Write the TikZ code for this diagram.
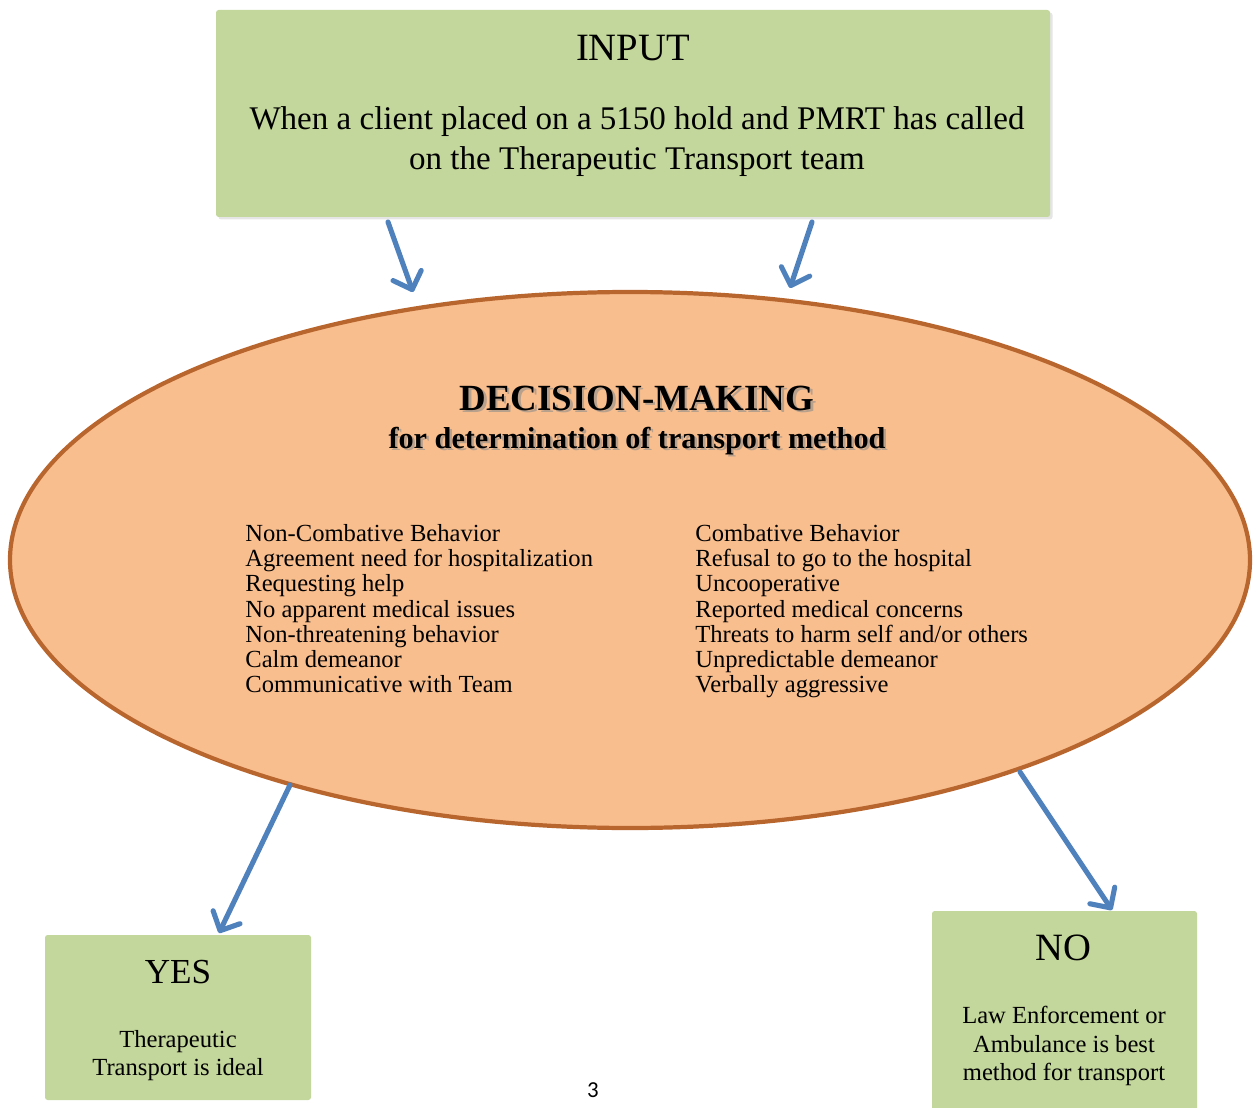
\documentclass[tikz,border=0pt]{standalone}
\usepackage{fontspec}
\setmainfont{Liberation Serif}
\newfontfamily\pagenumfont{Carlito}
\usetikzlibrary{arrows.meta,shapes.geometric,calc}
\definecolor{boxgreen}{HTML}{C3D69B}
\definecolor{peach}{HTML}{F9BE8E}
\definecolor{rim}{HTML}{B8662E}
\definecolor{arrowblue}{HTML}{4F81BD}
\tikzset{
  greenbox/.style={fill=boxgreen, draw=none, rounded corners=1.5pt},
  conn/.style={draw=arrowblue, line width=2.9pt, line cap=round,
    -{Straight Barb[length=8.5pt,width=17pt,line cap=round,line join=round]}},
  listtext/.style={anchor=north west, align=left, inner sep=0pt,
    font=\fontsize{14}{14.35}\selectfont},
  titletext/.style={inner sep=0pt},
  boxtext/.style={align=center, font=\fontsize{14}{16.4}\selectfont}
}
\begin{document}
\begin{tikzpicture}[x=0.02cm,y=-0.02cm]
\useasboundingbox (0,0) rectangle (1254,1108);
% INPUT box
\fill[black,opacity=0.10,rounded corners=1.5pt] (218.5,12.5) rectangle (1052.5,219.5);
\path[greenbox] (216,10) rectangle (1050,217);
\node (inputbox) at (633,113.5) [minimum width=834*0.02cm, minimum height=207*0.02cm, inner sep=0pt] {};
\node (inputtitle) at (633,48) [font=\fontsize{22}{26}\selectfont] {INPUT};
\node (inputtext) at (637,141.5) [align=center, font=\fontsize{18.8}{22.6}\selectfont] {When a client placed on a 5150 hold and PMRT has called\\ on the Therapeutic Transport team};
% ellipse
\node (dec) at (630,560) [ellipse, fill=peach, draw=rim, line width=2.4pt,
  minimum width=1240*0.02cm, minimum height=536*0.02cm, inner sep=0pt] {};
% title with soft shadow
\node[titletext, text=black!45, opacity=0.6, font=\fontsize{21}{24}\selectfont\bfseries] at (639.5,400.5) {DECISION-MAKING};
\node[titletext, font=\fontsize{21}{24}\selectfont\bfseries] (dectitle) at (637,398) {DECISION-MAKING};
\node[titletext, text=black!45, opacity=0.6, font=\fontsize{17.2}{20}\selectfont\bfseries] at (639.5,443.5) {for determination of transport method};
\node[titletext, font=\fontsize{17.2}{20}\selectfont\bfseries] (decsub) at (637,441) {for determination of transport method};
% lists
\node[listtext] (yeslist) at (245,524) {Non-Combative Behavior\\ Agreement need for hospitalization\\ Requesting help\\ No apparent medical issues\\ Non-threatening behavior\\ Calm demeanor\\ Communicative with Team};
\node[listtext] (nolist) at (695,524) {Combative Behavior\\ Refusal to go to the hospital\\ Uncooperative\\ Reported medical concerns\\ Threats to harm self and/or others\\ Unpredictable demeanor\\ Verbally aggressive};
% YES box
\path[greenbox] (45,935) rectangle (311,1100);
\node (yesbox) at (178,1017.5) [minimum width=266*0.02cm, minimum height=165*0.02cm, inner sep=0pt] {};
\node (yestitle) at (178,972) [font=\fontsize{20}{24}\selectfont] {YES};
\node (yestext) at (178,1055.5) [boxtext] {Therapeutic\\ Transport is ideal};
% NO box
\path[greenbox] (932,911) rectangle (1197,1115);
\node (nobox) at (1064.5,1010) [minimum width=265*0.02cm, minimum height=197*0.02cm, inner sep=0pt] {};
\node (notitle) at (1063,948) [font=\fontsize{22}{24}\selectfont] {NO};
\node (notext) at (1064,1046) [boxtext] {Law Enforcement or\\ Ambulance is best\\ method for transport};
% page number
\node (pagenum) at (593,1090) [font=\pagenumfont\fontsize{13}{15}\selectfont] {3};
% connector end points
\coordinate (a1s) at (388,222);
\coordinate (a1e) at (413,292);
\coordinate (a2s) at (812,222);
\coordinate (a2e) at (790,288);
\coordinate (a3s) at (290,785);
\coordinate (a3e) at (219,933);
\coordinate (a4s) at (1020,772);
\coordinate (a4e) at (1112,910);
\draw[conn] (a1s) -- (a1e);
\draw[conn] (a2s) -- (a2e);
\draw[conn] (a3s) -- (a3e);
\draw[conn] (a4s) -- (a4e);
\end{tikzpicture}
\end{document}
